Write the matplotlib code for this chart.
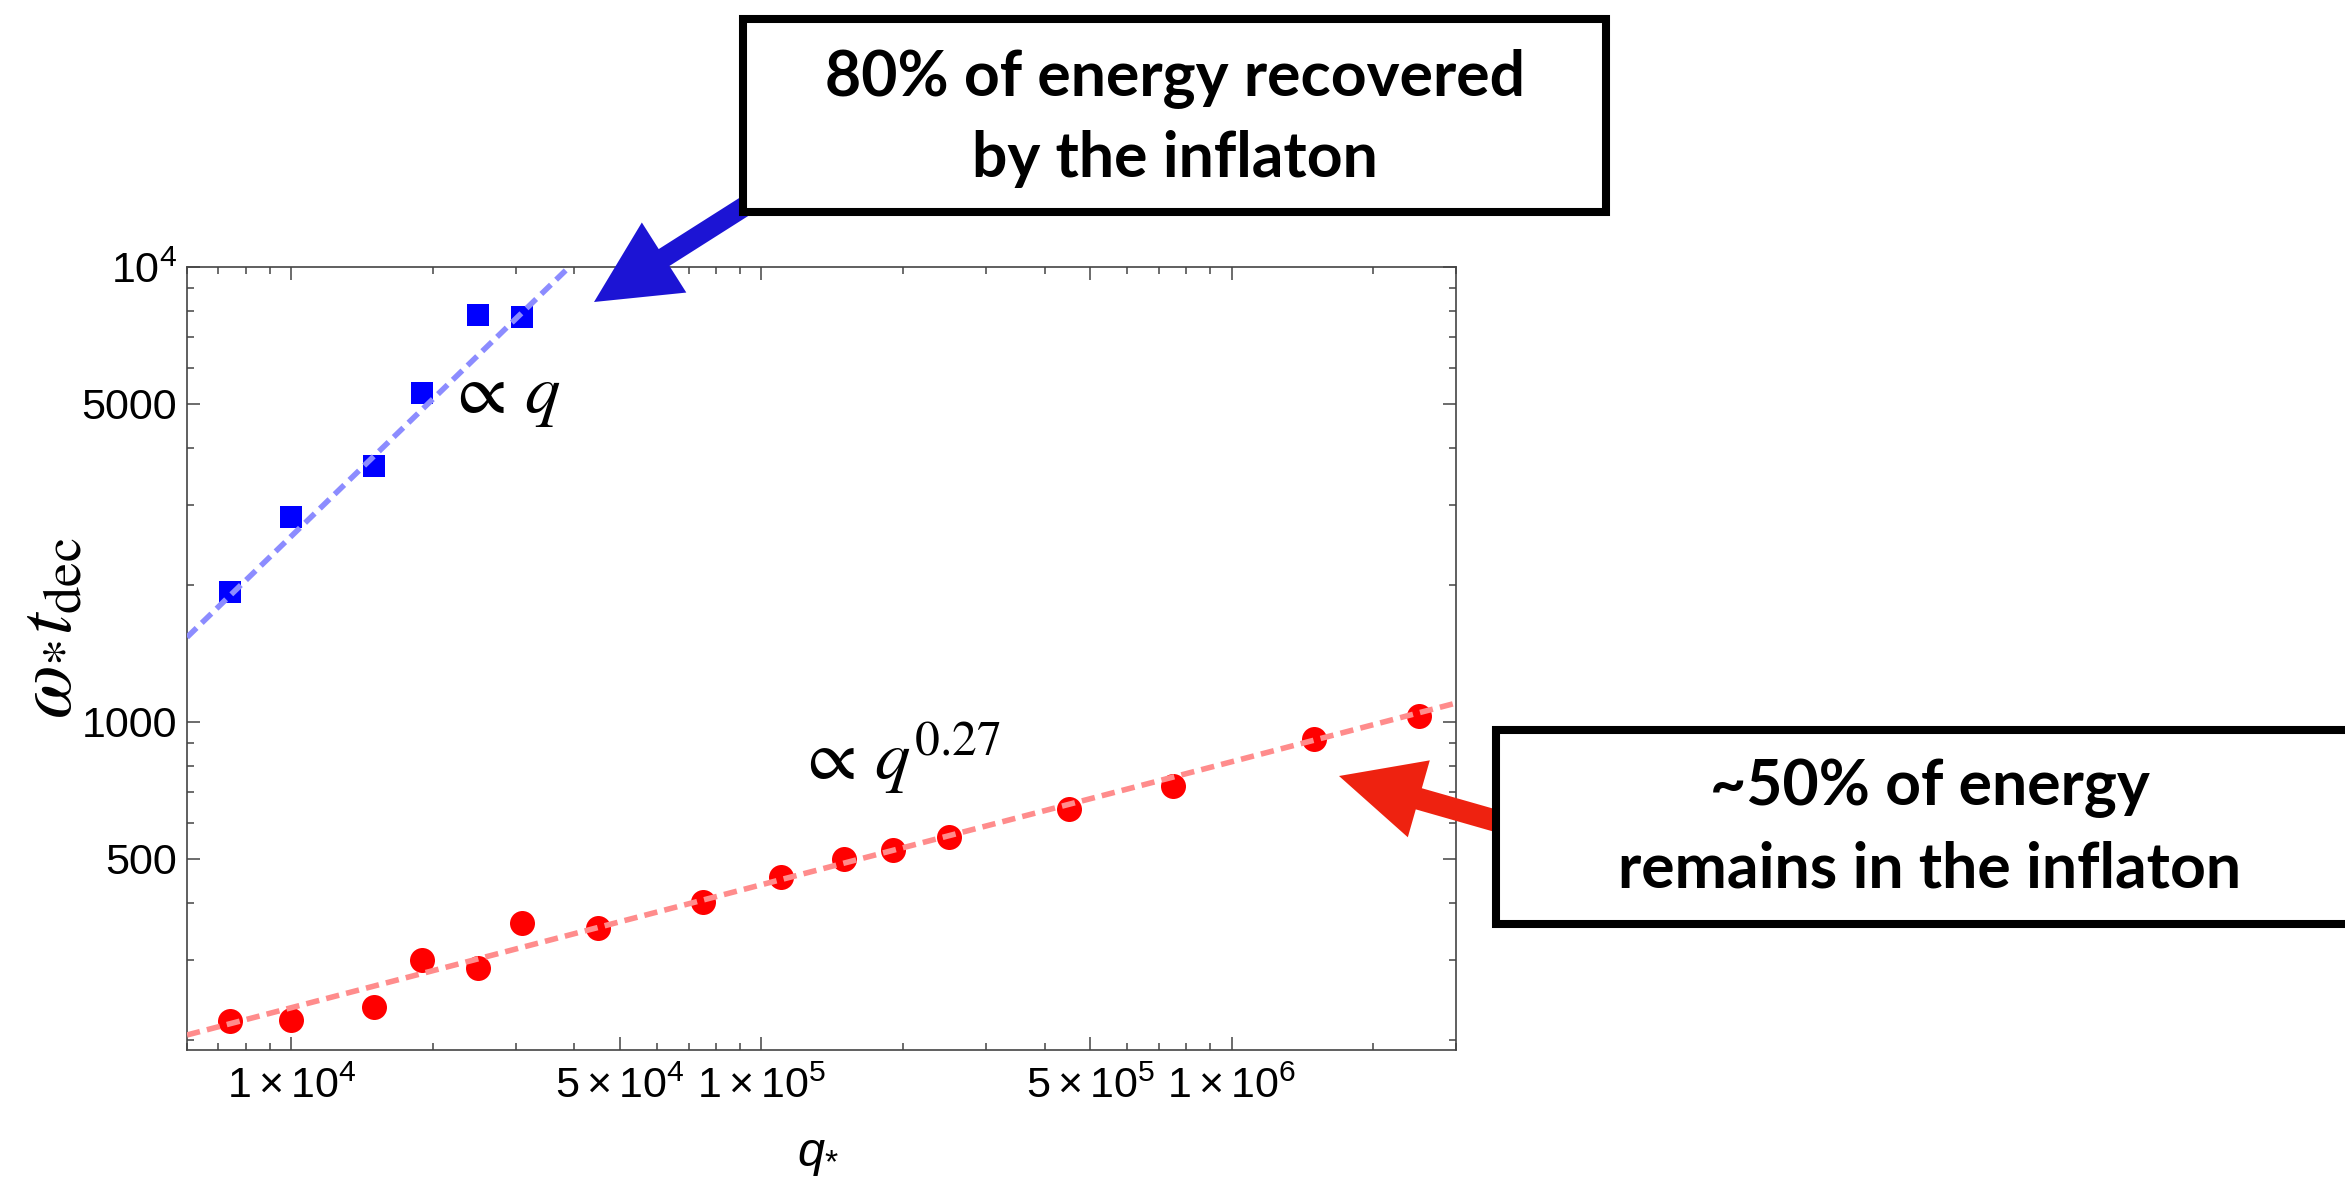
import matplotlib
matplotlib.use("Agg")
import matplotlib.pyplot as plt
from matplotlib.patches import FancyArrow, Rectangle
from matplotlib.ticker import FixedFormatter, FixedLocator, LogLocator, NullFormatter

# ---- data ----
q_blue = [7.4e3, 1.0e4, 1.5e4, 1.9e4, 2.5e4, 3.1e4]
t_blue = [1930, 2820, 3650, 5290, 7840, 7770]

q_red = [7.4e3, 1.0e4, 1.5e4, 1.9e4, 2.5e4, 3.1e4, 4.5e4, 7.5e4,
         1.1e5, 1.5e5, 1.9e5, 2.5e5, 4.5e5, 7.5e5, 1.5e6, 2.5e6]
t_red = [220, 221, 236, 300, 288, 361, 353, 402,
         456, 500, 523, 559, 644, 723, 918, 1031]

# dashed power-law fits (end points)
blue_fit_q = [6.0e3, 3.9e4]
blue_fit_t = [1535, 10000]
red_fit_q = [6.0e3, 3.0e6]
red_fit_t = [205, 1100]

x_ticks = [1e4, 5e4, 1e5, 5e5, 1e6]
x_ticklabels = [r"$1\times10^{4}$", r"$5\times10^{4}$", r"$1\times10^{5}$",
                r"$5\times10^{5}$", r"$1\times10^{6}$"]
y_ticks = [500, 1000, 5000, 10000]
y_ticklabels = ["500", "1000", "5000", r"$10^{4}$"]

top_note = ["80% of energy recovered", "by the inflaton"]
bottom_note = ["~50% of energy", "remains in the inflaton"]

plt.rcParams["font.family"] = "Liberation Sans"
plt.rcParams["mathtext.fontset"] = "custom"
plt.rcParams["mathtext.rm"] = "Liberation Sans"
plt.rcParams["mathtext.it"] = "Liberation Sans:italic"

W, H = 2345, 1178
fig = plt.figure(figsize=(W / 100, H / 100), dpi=100)
fig.patch.set_facecolor("white")

ax = fig.add_axes([187 / W, 1 - 1050 / H, (1456 - 187) / W, (1050 - 267) / H])
ax.set_xscale("log")
ax.set_yscale("log")

ax.plot(q_blue, t_blue, "s", color="#0000ff", markersize=16.5, mew=0, zorder=2)
ax.plot(q_red, t_red, "o", color="#ff0000", markersize=18, mew=0, zorder=2)
ax.plot(blue_fit_q, blue_fit_t, color="#8c8cff", lw=4, dashes=[2.4, 1.3], zorder=3)
ax.plot(red_fit_q, red_fit_t, color="#ff8c8c", lw=4, dashes=[2.4, 1.3], zorder=3)

ax.set_xlim(6.0e3, 3.0e6)
ax.set_ylim(190, 1e4)

ax.xaxis.set_major_locator(FixedLocator(x_ticks))
ax.xaxis.set_major_formatter(FixedFormatter(x_ticklabels))
ax.xaxis.set_minor_locator(LogLocator(base=10, subs=range(2, 10), numticks=30))
ax.xaxis.set_minor_formatter(NullFormatter())
ax.yaxis.set_major_locator(FixedLocator(y_ticks))
ax.yaxis.set_major_formatter(FixedFormatter(y_ticklabels))
ax.yaxis.set_minor_locator(LogLocator(base=10, subs=range(2, 10), numticks=30))
ax.yaxis.set_minor_formatter(NullFormatter())

for s in ax.spines.values():
    s.set_color("#444444")
    s.set_linewidth(1.2)
ax.tick_params(which="both", direction="in", top=True, right=True,
               color="#444444", width=1.1, labelsize=31)
ax.tick_params(which="major", length=9.5)
ax.tick_params(which="minor", length=5)
ax.tick_params(axis="x", pad=12)
ax.tick_params(axis="y", pad=7)

ax.set_ylabel(r"$\omega_{*}t_{\mathrm{dec}}$", fontsize=56, math_fontfamily="stix",
              rotation=90, ha="center", va="center")
ax.yaxis.set_label_coords((50 - 187) / 1269, 1 - (628 - 267) / 783)
ax.set_xlabel(r"$q_{*}$", fontsize=35, va="baseline")
ax.xaxis.set_label_coords((818 - 187) / 1269, -(1166 - 1050) / 783)

# ---- overlay in pixel units for boxes, arrows and notes ----
ov = fig.add_axes([0, 0, 1, 1], zorder=10)
ov.set_xlim(0, W)
ov.set_ylim(H, 0)
ov.axis("off")

ov.text(447, 413, r"$\propto\,q$", fontsize=51, math_fontfamily="stix",
        ha="left", va="baseline")
ov.text(797, 780, r"$\propto\,q^{0.27}$", fontsize=51, math_fontfamily="stix",
        ha="left", va="baseline")

ov.add_patch(FancyArrow(750, 203, 594 - 750, 302 - 203, width=20, head_width=83,
                        head_length=83, length_includes_head=True,
                        color="#1c14d4", lw=0, zorder=1))
ov.add_patch(FancyArrow(1500, 822, 1339 - 1500, 776 - 822, width=22, head_width=80,
                        head_length=83, length_includes_head=True,
                        color="#ee2210", lw=0, zorder=1))

ov.add_patch(Rectangle((743, 19), 863, 193, facecolor="white", edgecolor="black",
                       lw=5.8, zorder=2))
ov.add_patch(Rectangle((1496, 730), 900, 194, facecolor="white", edgecolor="black",
                       lw=5.8, zorder=2, clip_on=False))

note_kw = dict(fontsize=45, fontweight="bold", family=["Lato", "DejaVu Sans"],
               ha="center", va="baseline", zorder=3)
ov.text(1175, 95, top_note[0], **note_kw)
ov.text(1175, 177, top_note[1], **note_kw)
ov.text(1930, 805, bottom_note[0], **note_kw)
ov.text(1930, 888, bottom_note[1], **note_kw)

fig.savefig("out.png", dpi=100)
